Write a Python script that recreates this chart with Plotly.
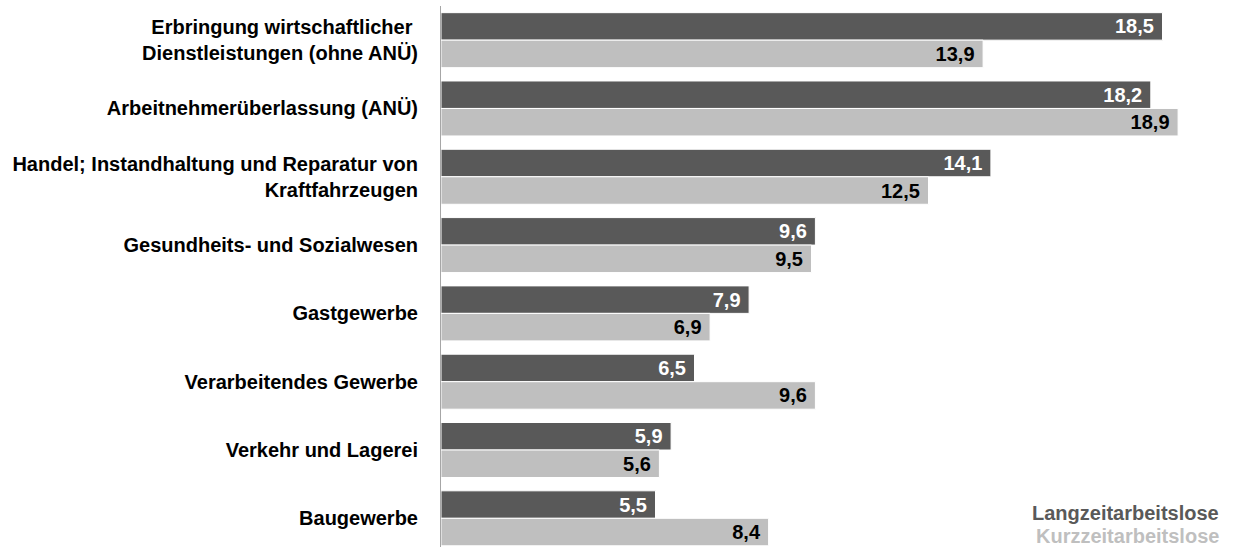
import plotly.graph_objects as go

categories = [
    "Erbringung wirtschaftlicher <br>Dienstleistungen (ohne ANÜ)",
    "Arbeitnehmerüberlassung (ANÜ)",
    "Handel; Instandhaltung und Reparatur von<br>Kraftfahrzeugen",
    "Gesundheits- und Sozialwesen",
    "Gastgewerbe",
    "Verarbeitendes Gewerbe",
    "Verkehr und Lagerei",
    "Baugewerbe",
]
langzeit = [18.5, 18.2, 14.1, 9.6, 7.9, 6.5, 5.9, 5.5]
kurzzeit = [13.9, 18.9, 12.5, 9.5, 6.9, 9.6, 5.6, 8.4]
series_names = ["Langzeitarbeitslose", "Kurzzeitarbeitslose"]

dark = "#595959"
light = "#bfbfbf"
font_family = "Liberation Sans, Arial, sans-serif"
fs = 20

fig = go.Figure()
fig.add_trace(go.Bar(
    y=categories, x=langzeit, orientation="h", name=series_names[0],
    marker=dict(color=dark, line=dict(color="white", width=1)),
    texttemplate="<b>%{x:.1f}</b>&nbsp;", textposition="inside", insidetextanchor="end",
    textfont=dict(color="white", size=fs, family=font_family),
    cliponaxis=False, hoverinfo="skip",
))
fig.add_trace(go.Bar(
    y=categories, x=kurzzeit, orientation="h", name=series_names[1],
    marker=dict(color=light, line=dict(color="white", width=1)),
    texttemplate="<b>%{x:.1f}</b>&nbsp;", textposition="inside", insidetextanchor="end",
    textfont=dict(color="black", size=fs, family=font_family),
    cliponaxis=False, hoverinfo="skip",
))

fig.update_layout(
    width=1234, height=547,
    margin=dict(l=441, r=13, t=6, b=0),
    barmode="group", bargap=0.195, bargroupgap=0,
    separators=",.",
    plot_bgcolor="white", paper_bgcolor="white",
    showlegend=False,
    font=dict(family=font_family, color="black"),
    uniformtext=dict(mode="show", minsize=fs),
)
fig.update_xaxes(range=[0, 20], visible=False, showgrid=False, zeroline=False)
fig.update_yaxes(
    type="category", range=[7.42, -0.5],
    showline=True, linecolor="#a6a6a6", linewidth=1,
    showgrid=False, zeroline=False, ticks="",
    ticklabelstandoff=18, automargin=False,
    tickfont=dict(size=fs, family=font_family, color="black", weight="bold"),
)

fig.add_annotation(xref="paper", yref="paper", x=1.0, y=0.062, xanchor="right", yanchor="middle",
                   text="<b>" + series_names[0] + "</b>", showarrow=False,
                   font=dict(size=fs, color=dark, family=font_family))
fig.add_annotation(xref="paper", yref="paper", x=1.0, y=0.02, xanchor="right", yanchor="middle",
                   text="<b>" + series_names[1] + "</b>", showarrow=False,
                   font=dict(size=fs, color=light, family=font_family))

fig.write_html("out.html", config={"displayModeBar": False},
               post_script="document.body.style.margin='0px';document.body.style.overflow='hidden';")
